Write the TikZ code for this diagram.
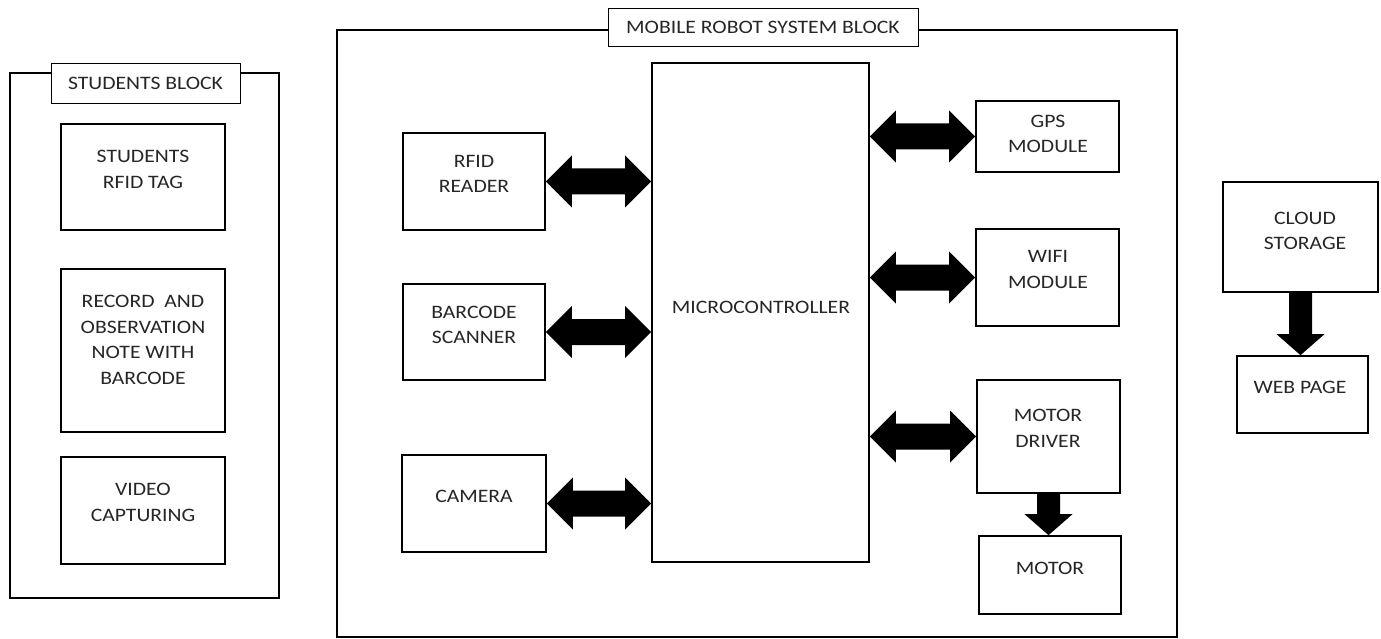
\documentclass[tikz,border=0pt]{standalone}
\usepackage{fontspec}
\setmainfont{Carlito}[FakeStretch=1.14]
\usetikzlibrary{calc}
% horizontal double arrow between two points at the same height
\newcommand\hdbl[2]{%
  \fill let \p1=(#1), \p2=(#2) in
    (\x1,\y1) -- (\x1+26pt,\y1+26pt) -- (\x1+26pt,\y1+13pt) -- (\x2-26pt,\y1+13pt)
    -- (\x2-26pt,\y1+26pt) -- (\x2,\y1) -- (\x2-26pt,\y1-26pt) -- (\x2-26pt,\y1-13pt)
    -- (\x1+26pt,\y1-13pt) -- (\x1+26pt,\y1-26pt) -- cycle;}
% vertical single arrow pointing down
\newcommand\vdown[2]{%
  \fill let \p1=(#1), \p2=(#2) in
    (\x1-11.5pt,\y1) -- (\x1+11.5pt,\y1) -- (\x1+11.5pt,\y2+21pt) -- (\x1+24pt,\y2+21pt)
    -- (\x1,\y2) -- (\x1-24pt,\y2+21pt) -- (\x1-11.5pt,\y2+21pt) -- cycle;}
\definecolor{ink}{gray}{0.15}
\begin{document}
\begin{tikzpicture}[x=1pt,y=-1pt,
  box/.style={draw, line width=1.7pt, inner sep=0pt, fill=white},
  outer/.style={draw, line width=1.7pt, inner sep=0pt},
  title/.style={draw, line width=0.9pt, fill=white, inner sep=0pt, text=ink,
                font=\fontsize{19}{25.5}\selectfont},
  txt/.style={align=center, inner sep=0pt, text=ink, font=\fontsize{19}{25.5}\selectfont},
]
\useasboundingbox (0,0) rectangle (1381,639);

% ---------- Students block ----------
\node[outer, minimum width=269, minimum height=525] (sblock) at (144.5,335.5) {};
\node[title, minimum width=189, minimum height=40] (stitle) at (145.5,83) {STUDENTS BLOCK};
\node[box, minimum width=164, minimum height=106] (tag) at (143,177) {};
\node[txt] (tagt) at (143,169.5) {STUDENTS\\RFID TAG};
\node[box, minimum width=164, minimum height=163] (rec) at (143,350.5) {};
\node[txt] (rect) at (143,340) {RECORD\ \ AND\\OBSERVATION\\NOTE WITH\\BARCODE};
\node[box, minimum width=164, minimum height=107] (vid) at (143,510.5) {};
\node[txt] (vidt) at (143,502.5) {VIDEO\\CAPTURING};

% ---------- Mobile robot system block ----------
\node[outer, minimum width=840, minimum height=607] (mblock) at (757,333.5) {};
\node[title, minimum width=310, minimum height=38] (mtitle) at (763,27) {MOBILE ROBOT SYSTEM BLOCK};
\node[box, minimum width=217, minimum height=499] (mc) at (760.5,312.5) {};
\node[txt] (mct) at (761,307) {MICROCONTROLLER};

\node[box, minimum width=142, minimum height=97] (rfid) at (474,181.5) {};
\node[txt] (rfidt) at (474,174) {RFID\\READER};
\node[box, minimum width=142, minimum height=96] (bar) at (474,332) {};
\node[txt] (bart) at (474,325) {BARCODE\\SCANNER};
\node[box, minimum width=144, minimum height=97] (cam) at (474,503.5) {};
\node[txt] (camt) at (474,496) {CAMERA};

\node[box, minimum width=143, minimum height=71] (gps) at (1047.5,136.5) {};
\node[txt] (gpst) at (1048,134) {GPS\\MODULE};
\node[box, minimum width=143, minimum height=97] (wifi) at (1047.5,277.5) {};
\node[txt] (wifit) at (1048,269.5) {WIFI\\MODULE};
\node[box, minimum width=143, minimum height=113] (md) at (1048.5,436.5) {};
\node[txt] (mdt) at (1048,428.5) {MOTOR\\DRIVER};
\node[box, minimum width=142, minimum height=78] (mot) at (1050,575) {};
\node[txt] (mott) at (1050,568) {MOTOR};

% ---------- Cloud ----------
\node[box, minimum width=155, minimum height=110] (cloud) at (1300.5,237) {};
\node[txt] (cloudt) at (1305,231) {CLOUD\\STORAGE};
\node[box, minimum width=131, minimum height=77] (web) at (1302.5,394.5) {};
\node[txt] (webt) at (1300,387) {WEB PAGE};

% ---------- Arrows ----------
\hdbl{rfid.east}{mc.west |- rfid.east}
\hdbl{bar.east}{mc.west |- bar.east}
\hdbl{cam.east}{mc.west |- cam.east}
\hdbl{mc.east |- gps.west}{gps.west}
\hdbl{mc.east |- wifi.west}{wifi.west}
\hdbl{mc.east |- md.west}{md.west}
\vdown{md.south}{mot.north -| md.south}
\vdown{cloud.south}{web.north -| cloud.south}
\end{tikzpicture}
\end{document}
